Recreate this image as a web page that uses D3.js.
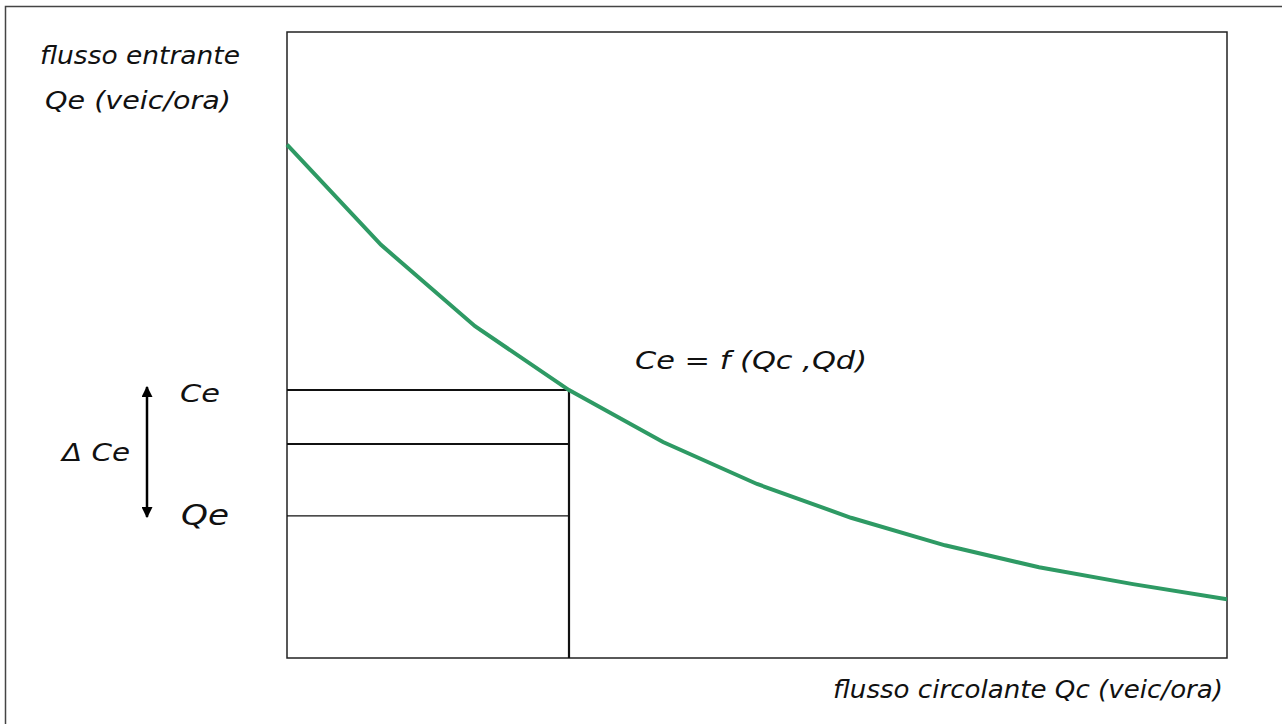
<!DOCTYPE html>
<html lang="it">
<head>
    <meta charset="UTF-8">
    <title>Capacità di ingresso</title>
    <script src="https://d3js.org/d3.v7.min.js"></script>
    <style>
        body{
            margin: 0;
            background: #fff;
        }
        text{
            font-family: 'DejaVu Sans', sans-serif;
            font-style: italic;
            fill: #111;
        }
    </style>
</head>
<body>
    <div id="container"></div>
</body>
</html>
<script>
    // punti della curva Ce = f(Qc,Qd)
    var qc = [0, 1, 2, 3, 4, 5, 6, 7, 8, 9, 10]
    var ce = [820, 660, 530, 428, 345, 278, 224, 180, 145, 118, 94]

    // livelli di riferimento
    var qcPoint = 3
    var ceLevel = 428
    var midLevel = 342
    var qeLevel = 227

    let width = 1282
    let height = 724

    let svg = d3.select("#container")
        .append("svg")
        .attr("width", width)
        .attr("height", height)

    // cornice esterna
    svg.append("path")
        .attr("d", "M5.5," + height + "V6.5H" + width)
        .attr("fill", "none")
        .attr("stroke", "#444")
        .attr("stroke-width", 1.5)

    let xScale = d3.scaleLinear()
        .domain([0, 10])
        .range([287, 1227])

    let yScale = d3.scaleLinear()
        .domain([0, 1000])
        .range([658, 32])

    // area del grafico
    svg.append("rect")
        .attr("x", xScale(0))
        .attr("y", yScale(1000))
        .attr("width", xScale(10) - xScale(0))
        .attr("height", yScale(0) - yScale(1000))
        .attr("fill", "none")
        .attr("stroke", "#222")
        .attr("stroke-width", 1.5)

    // linee orizzontali Ce, intermedia, Qe
    let levels = [
        {v: ceLevel, w: 2},
        {v: midLevel, w: 2},
        {v: qeLevel, w: 1.3}
    ]
    svg.selectAll(".level")
        .data(levels)
        .enter()
        .append("line")
        .attr("class", "level")
        .attr("x1", xScale(0))
        .attr("x2", xScale(qcPoint))
        .attr("y1", d => yScale(d.v))
        .attr("y2", d => yScale(d.v))
        .attr("stroke", "#111")
        .attr("stroke-width", d => d.w)

    // linea verticale
    svg.append("line")
        .attr("x1", xScale(qcPoint))
        .attr("x2", xScale(qcPoint))
        .attr("y1", yScale(ceLevel))
        .attr("y2", yScale(0))
        .attr("stroke", "#111")
        .attr("stroke-width", 2.2)

    // curva
    let line = d3.line()
        .x((d, i) => xScale(qc[i]))
        .y(d => yScale(d))

    svg.append("path")
        .datum(ce)
        .attr("d", line)
        .attr("fill", "none")
        .attr("stroke", "#2e9a64")
        .attr("stroke-width", 4)

    // freccia delta Ce
    let defs = svg.append("defs")
    defs.append("marker")
        .attr("id", "arrow")
        .attr("viewBox", "0 0 10 10")
        .attr("refX", 9)
        .attr("refY", 5)
        .attr("markerWidth", 4.4)
        .attr("markerHeight", 4.4)
        .attr("orient", "auto-start-reverse")
        .append("path")
        .attr("d", "M0,0L10,5L0,10z")
        .attr("fill", "#000")

    svg.append("line")
        .attr("x1", 147)
        .attr("x2", 147)
        .attr("y1", 387)
        .attr("y2", 517)
        .attr("stroke", "#000")
        .attr("stroke-width", 2.5)
        .attr("marker-start", "url(#arrow)")
        .attr("marker-end", "url(#arrow)")

    // testi
    let labels = [
        {t: "flusso entrante", x: 40, y: 64, s: 24, len: 200},
        {t: "Qe (veic/ora)", x: 45, y: 109, s: 24, len: 186},
        {t: "Ce", x: 180, y: 402, s: 24, len: 40},
        {t: "\u0394 Ce", x: 62, y: 461, s: 24, len: 68},
        {t: "Qe", x: 181, y: 525, s: 28, len: 48},
        {t: "Ce = f (Qc ,Qd)", x: 635, y: 369, s: 24, len: 232},
        {t: "flusso circolante Qc (veic/ora)", x: 833, y: 698, s: 24, len: 390}
    ]
    svg.selectAll(".label")
        .data(labels)
        .enter()
        .append("text")
        .attr("class", "label")
        .attr("x", d => d.x)
        .attr("y", d => d.y)
        .attr("font-size", d => d.s)
        .attr("textLength", d => d.len)
        .attr("lengthAdjust", "spacingAndGlyphs")
        .text(d => d.t)
</script>
